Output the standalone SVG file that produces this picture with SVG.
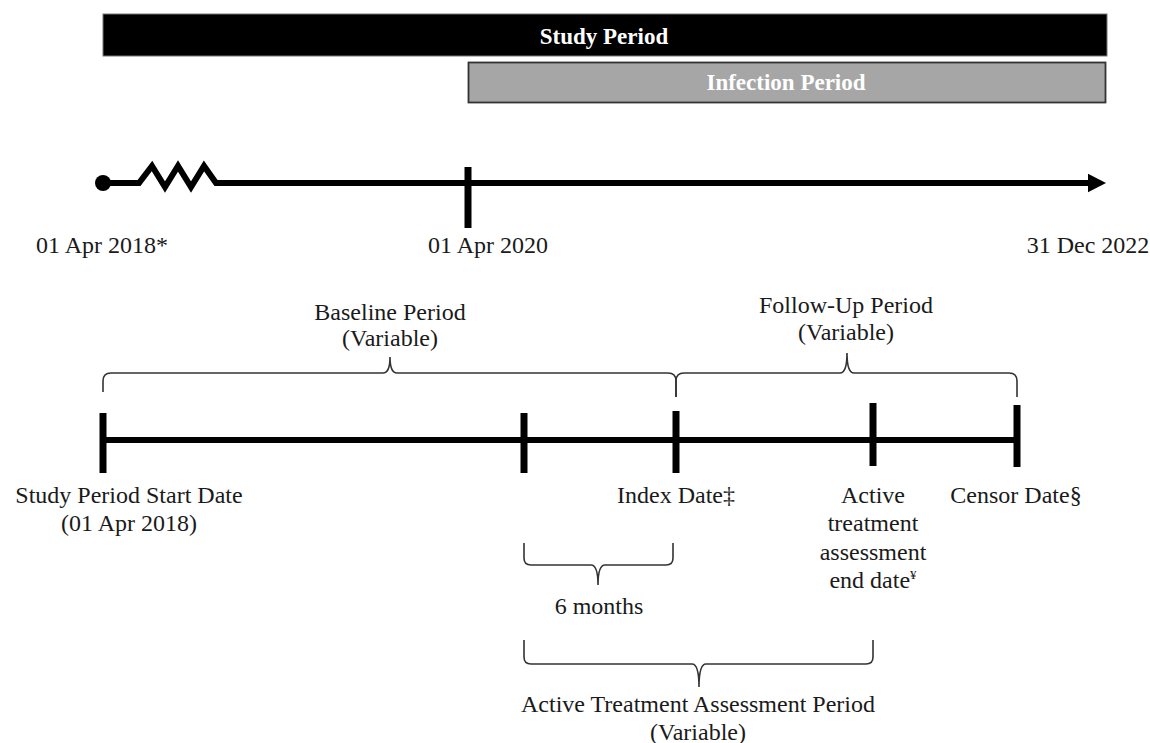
<svg xmlns="http://www.w3.org/2000/svg" width="1150" height="743" viewBox="0 0 1150 743">
<style>
.t{font-family:"Liberation Serif","Times New Roman",serif;font-size:24px;fill:#1a1a1a;text-anchor:middle}
.b{font-family:"Liberation Serif","Times New Roman",serif;font-size:23px;font-weight:bold;fill:#fff;text-anchor:middle}
.ax{stroke:#000;stroke-width:6;fill:none}
.tk{stroke:#000;stroke-width:7;fill:none}
.br{stroke:#333;stroke-width:1.6;fill:none}
</style>
<defs>
<marker id="ah" markerWidth="4" markerHeight="4" refX="0" refY="2" orient="auto" markerUnits="strokeWidth">
<path d="M0,0.45 L3,2 L0,3.55 Z" fill="#000"/>
</marker>
</defs>
<rect width="1150" height="743" fill="#fff"/>
<g id="study-period">
<rect x="103" y="14" width="1004" height="42" fill="#000" stroke="#777" stroke-width="1"/>
<text class="b" x="604" y="44">Study Period</text>
</g>
<g id="infection-period">
<rect x="468.5" y="62.5" width="637" height="40" fill="#a6a6a6" stroke="#333" stroke-width="1.8"/>
<text class="b" x="786" y="90">Infection Period</text>
</g>
<g id="connectors">
<circle cx="103" cy="183" r="8" fill="#000"/>
<path class="ax" d="M103,183 L139,183 L152,166 L165,187 L178,166 L191,187 L204,166 L216,183 L1088,183" marker-end="url(#ah)"/>
<line class="tk" x1="468" y1="167" x2="468" y2="228"/>
<line class="ax" x1="103" y1="440" x2="1017" y2="440"/>
<line class="tk" x1="103" y1="413" x2="103" y2="473"/>
<line class="tk" x1="524" y1="413" x2="524" y2="473"/>
<line class="tk" x1="676" y1="411" x2="676" y2="473"/>
<line class="tk" x1="873" y1="403" x2="873" y2="466"/>
<line class="tk" x1="1017" y1="405" x2="1017" y2="467"/>
<path class="br" d="M103,392 L103,381 Q103,373 111,373 L383,373 Q390,373 390,357 Q390,373 397,373 L668,373 Q676,373 676,381 L676,397"/>
<path class="br" d="M676,397 L676,381 Q676,373 684,373 L840,373 Q847,373 847,353 Q847,373 854,373 L1009,373 Q1017,373 1017,381 L1017,397"/>
<path class="br" d="M524,543 L524,558 Q524,565 531,565 L591,565 Q598,565 598,585 Q598,565 605,565 L666,565 Q673,565 673,558 L673,543"/>
<path class="br" d="M524,640 L524,657 Q524,664 531,664 L692,664 Q699,664 699,687 Q699,664 706,664 L866,664 Q873,664 873,657 L873,640"/>
</g>
<g id="date-labels">
<text class="t" x="102" y="253">01 Apr 2018*</text>
<text class="t" x="488" y="253">01 Apr 2020</text>
<text class="t" x="1088" y="253">31 Dec 2022</text>
</g>
<g id="baseline-label">
<text class="t" x="390" y="320">Baseline Period</text>
<text class="t" x="390" y="346">(Variable)</text>
</g>
<g id="followup-label">
<text class="t" x="846" y="313">Follow-Up Period</text>
<text class="t" x="846" y="340">(Variable)</text>
</g>
<g id="start-date-label">
<text class="t" x="129" y="503">Study Period Start Date</text>
<text class="t" x="129" y="531">(01 Apr 2018)</text>
</g>
<g id="index-date-label">
<text class="t" x="676" y="503">Index Date‡</text>
</g>
<g id="active-end-label">
<text class="t" x="873" y="503">Active</text>
<text class="t" x="873" y="531">treatment</text>
<text class="t" x="873" y="560">assessment</text>
<text class="t" x="873" y="588">end date<tspan font-size="13" dy="-9">¥</tspan></text>
</g>
<g id="censor-date-label">
<text class="t" x="1016" y="503">Censor Date§</text>
</g>
<g id="six-months-label">
<text class="t" x="599" y="614">6 months</text>
</g>
<g id="active-period-label">
<text class="t" x="698" y="712">Active Treatment Assessment Period</text>
<text class="t" x="698" y="740">(Variable)</text>
</g>
</svg>
